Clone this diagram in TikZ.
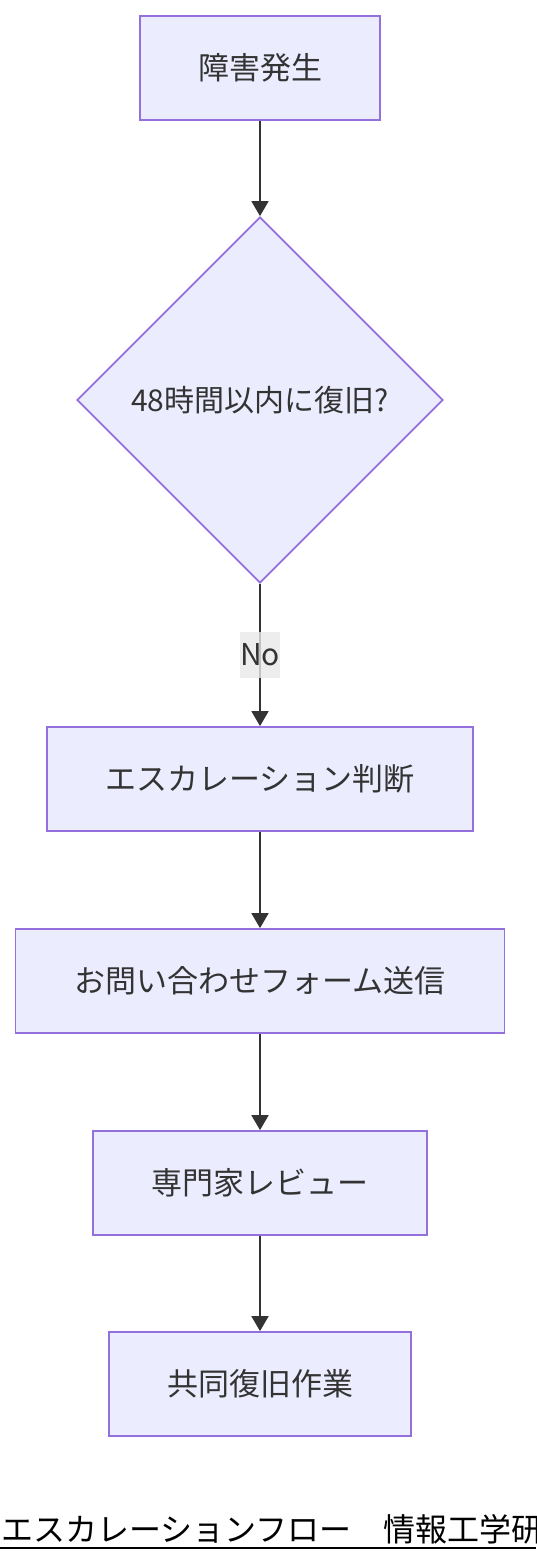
\documentclass[tikz,border=0pt]{standalone}
\usepackage{fontspec}
\setmainfont{Noto Sans CJK JP}
\usetikzlibrary{shapes.geometric,arrows.meta}
\definecolor{boxfill}{HTML}{ECECFF}
\definecolor{boxline}{HTML}{9370DB}
\definecolor{ink}{HTML}{333333}
\definecolor{lblfill}{HTML}{E8E8E8}
\begin{document}
\begin{tikzpicture}[x=1pt,y=-1pt,
        stepbox/.style={draw=boxline,fill=boxfill,line width=1.8pt,text=ink,inner sep=0pt,minimum height=104pt,font=\fontsize{31}{37}\selectfont},
        ask/.style={diamond,draw=boxline,fill=boxfill,line width=1.8pt,text=ink,inner sep=0pt,minimum width=366pt,minimum height=366pt,font=\fontsize{30}{36}\selectfont},
        lbl/.style={fill=lblfill,fill opacity=.8,text opacity=1,text=ink,inner sep=0pt,minimum width=36pt,minimum height=46pt,font=\fontsize{30}{36}\selectfont},
        arr/.style={-{Triangle[width=17pt,length=15pt]},line width=1.8pt,draw=ink}]
        \useasboundingbox (0,0) rectangle (536,1562);
        \node[stepbox,minimum width=240pt] (start) at (260,68) {障害発生};
        \node[ask] (check) at (260,400) {48時間以内に復旧?};
        \node[stepbox,minimum width=426pt] (judge) at (260,779) {エスカレーション判断};
        \node[stepbox,minimum width=489pt] (form) at (260,981) {お問い合わせフォーム送信};
        \node[stepbox,minimum width=334pt] (review) at (260,1183) {専門家レビュー};
        \node[stepbox,minimum width=302pt] (joint) at (260,1384) {共同復旧作業};
        \draw[arr] (start)--(check);
        \draw[arr] (check)--node[lbl]{No}(judge);
        \draw[arr] (judge)--(form);
        \draw[arr] (form)--(review);
        \draw[arr] (review)--(joint);
        \node[anchor=base west,inner sep=0pt,font=\fontsize{32}{38}\selectfont] (title) at (1,1541) {エスカレーションフロー　情報工学研};
        \coordinate (ulL) at (0,1548);
        \coordinate (ulR) at (536,1548);
        \draw[line width=2pt] (ulL)--(ulR);
\end{tikzpicture}
\end{document}
